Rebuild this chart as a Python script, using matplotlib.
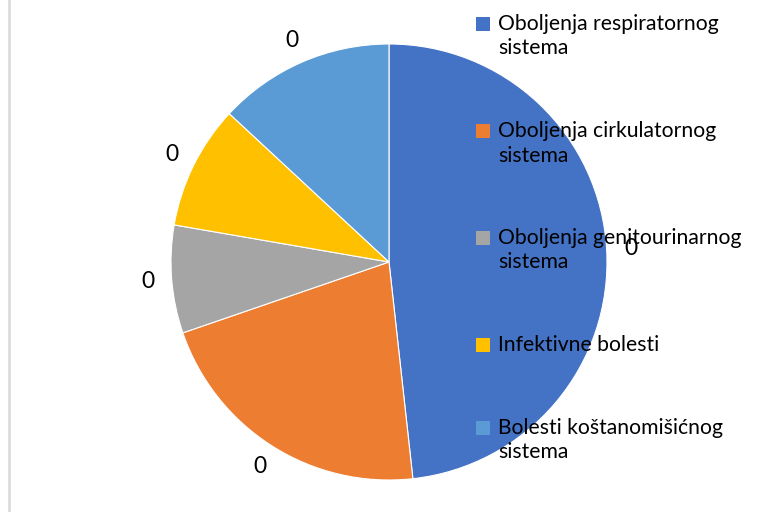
import matplotlib
matplotlib.use("Agg")
import matplotlib.pyplot as plt

plt.rcParams["font.family"] = ["Lato", "DejaVu Sans"]

# ── Data ─────────────────────────────────────────────────────────────────────
categories = [
    "Oboljenja respiratornog\nsistema",
    "Oboljenja cirkulatornog\nsistema",
    "Oboljenja genitourinarnog\nsistema",
    "Infektivne bolesti",
    "Bolesti koštanomišićnog\nsistema",
]
shares = [48.3, 21.5, 8.0, 9.2, 13.1]
data_labels = ["0", "0", "0", "0", "0"]
colors = ["#4472C4", "#ED7D31", "#A5A5A5", "#FFC000", "#5B9BD5"]

W, H = 763, 512
fig = plt.figure(figsize=(W / 100, H / 100), dpi=100)
ax = fig.add_axes([0, 0, 1, 1])

# pie laid out in pixel coordinates (y up)
cx, cy, r = 389, H - 262, 218
wedges, _, autotexts = ax.pie(
    shares,
    colors=colors,
    startangle=90,
    counterclock=False,
    center=(cx, cy),
    radius=r,
    autopct="%1.0f",
    pctdistance=1.11,
    wedgeprops=dict(edgecolor="white", linewidth=0.8),
)
for t, lbl in zip(autotexts, data_labels):
    t.set_text(lbl)
    t.set_fontsize(16.5)
    t.set_color("#000000")
    t.set_zorder(4)

ax.set_xlim(0, W)
ax.set_ylim(0, H)
ax.set_aspect("equal")
ax.axis("off")

# ── Legend (manual, marker next to first line of each entry) ─────────────────
line_h = 24.5
gap = 58
y = 24
for lbl, col in zip(categories, colors):
    ax.scatter([483], [H - y], marker="s", s=110, color=col, linewidths=0, zorder=3)
    parts = lbl.split("\n")
    for i, part in enumerate(parts):
        ax.text(498, H - (y + i * line_h), part, fontsize=15.2,
                va="center", ha="left", zorder=3)
    y += len(parts) * line_h + gap

# left border of the chart area
ax.plot([9, 9], [0, H], color="#d9d9d9", linewidth=1.8)

fig.savefig("out.png", dpi=100)
